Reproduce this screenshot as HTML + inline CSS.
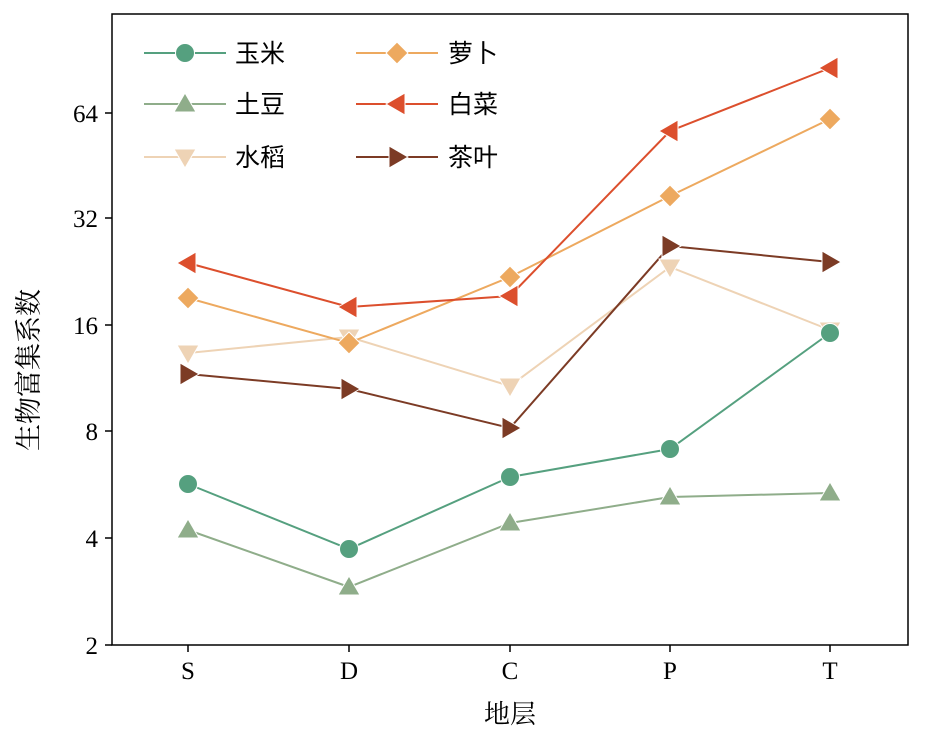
<!DOCTYPE html>
<html><head><meta charset="utf-8"><style>body{margin:0;background:#fff}svg{display:block}</style></head><body>
<svg width="945" height="732" xmlns="http://www.w3.org/2000/svg">
<rect width="945" height="732" fill="#fff"/>
<rect x="112" y="14" width="796" height="631" fill="none" stroke="#000" stroke-width="1.5"/>
<g stroke="#000" stroke-width="1.5">
<line x1="112" y1="645" x2="105" y2="645"/><line x1="112" y1="538" x2="105" y2="538"/><line x1="112" y1="431" x2="105" y2="431"/><line x1="112" y1="325" x2="105" y2="325"/><line x1="112" y1="218" x2="105" y2="218"/><line x1="112" y1="113" x2="105" y2="113"/>
<line x1="188" y1="645" x2="188" y2="652"/><line x1="349" y1="645" x2="349" y2="652"/><line x1="510" y1="645" x2="510" y2="652"/><line x1="670" y1="645" x2="670" y2="652"/><line x1="830" y1="645" x2="830" y2="652"/>
</g>
<g font-family="Liberation Serif, serif" font-size="25" fill="#000" text-anchor="end">
<text x="98" y="654">2</text><text x="98" y="547">4</text><text x="98" y="440">8</text><text x="98" y="334">16</text><text x="98" y="227">32</text><text x="98" y="122">64</text>
</g>
<g font-family="Liberation Serif, serif" font-size="25" fill="#000" text-anchor="middle">
<text x="188" y="679">S</text><text x="349" y="679">D</text><text x="510" y="679">C</text><text x="670" y="679">P</text><text x="830" y="679">T</text>
</g>
<text x="510" y="723" font-family="Liberation Serif, 'Noto Serif CJK SC', serif" font-size="26" text-anchor="middle">地层</text>
<text transform="translate(38 370) rotate(-90)" font-family="Liberation Serif, 'Noto Serif CJK SC', serif" font-size="27" text-anchor="middle">生物富集系数</text>
<defs>
<circle id="mc" r="9.5"/>
<polygon id="mu" points="0,-11 11,8 -11,8"/>
<polygon id="md" points="0,11 11,-8 -11,-8"/>
<polygon id="mdi" points="0,-11 11,0 0,11 -11,0"/>
<polygon id="ml" points="-11,0 8,-11 8,11"/>
<polygon id="mr" points="11,0 -8,-11 -8,11"/>
</defs>
<g fill="none" stroke-width="2">
<polyline stroke="#eed3b5" points="188,353 349,337 510,386 670,267 830,330"/>
<polyline stroke="#8fad8a" points="188,530 349,587 510,523 670,497 830,493"/>
<polyline stroke="#55a07f" points="188,484 349,549 510,477 670,449 830,333"/>
<polyline stroke="#eda95f" points="188,298 349,343 510,277 670,196 830,119"/>
<polyline stroke="#dc4f2d" points="188,263 349,307 510,296 670,131 830,68"/>
<polyline stroke="#7c3b25" points="188,374 349,389 510,428 670,246 830,262"/>
</g>
<g fill="#eed3b5" stroke="#fff" stroke-width="1"><use href="#md" x="188" y="353"/><use href="#md" x="349" y="337"/><use href="#md" x="510" y="386"/><use href="#md" x="670" y="267"/><use href="#md" x="830" y="330"/></g>
<g fill="#8fad8a" stroke="#fff" stroke-width="1"><use href="#mu" x="188" y="530"/><use href="#mu" x="349" y="587"/><use href="#mu" x="510" y="523"/><use href="#mu" x="670" y="497"/><use href="#mu" x="830" y="493"/></g>
<g fill="#55a07f" stroke="#fff" stroke-width="1"><use href="#mc" x="188" y="484"/><use href="#mc" x="349" y="549"/><use href="#mc" x="510" y="477"/><use href="#mc" x="670" y="449"/><use href="#mc" x="830" y="333"/></g>
<g fill="#eda95f" stroke="#fff" stroke-width="1"><use href="#mdi" x="188" y="298"/><use href="#mdi" x="349" y="343"/><use href="#mdi" x="510" y="277"/><use href="#mdi" x="670" y="196"/><use href="#mdi" x="830" y="119"/></g>
<g fill="#dc4f2d" stroke="#fff" stroke-width="1"><use href="#ml" x="188" y="263"/><use href="#ml" x="349" y="307"/><use href="#ml" x="510" y="296"/><use href="#ml" x="670" y="131"/><use href="#ml" x="830" y="68"/></g>
<g fill="#7c3b25" stroke="#fff" stroke-width="1"><use href="#mr" x="188" y="374"/><use href="#mr" x="349" y="389"/><use href="#mr" x="510" y="428"/><use href="#mr" x="670" y="246"/><use href="#mr" x="830" y="262"/></g>
<g stroke-width="2">
<line x1="144" y1="53" x2="226" y2="53" stroke="#55a07f"/><use href="#mc" x="185" y="53" fill="#55a07f" stroke="#fff" stroke-width="1"/>
<line x1="144" y1="104" x2="226" y2="104" stroke="#8fad8a"/><use href="#mu" x="185" y="104" fill="#8fad8a" stroke="#fff" stroke-width="1"/>
<line x1="144" y1="157" x2="226" y2="157" stroke="#eed3b5"/><use href="#md" x="185" y="157" fill="#eed3b5" stroke="#fff" stroke-width="1"/>
<line x1="356" y1="53" x2="438" y2="53" stroke="#eda95f"/><use href="#mdi" x="397" y="53" fill="#eda95f" stroke="#fff" stroke-width="1"/>
<line x1="356" y1="104" x2="438" y2="104" stroke="#dc4f2d"/><use href="#ml" x="397" y="104" fill="#dc4f2d" stroke="#fff" stroke-width="1"/>
<line x1="356" y1="157" x2="438" y2="157" stroke="#7c3b25"/><use href="#mr" x="397" y="157" fill="#7c3b25" stroke="#fff" stroke-width="1"/>
</g>
<g font-family="Liberation Sans, 'Noto Sans CJK SC', sans-serif" font-size="25" fill="#000">
<text x="235" y="62">玉米</text><text x="235" y="113">土豆</text><text x="235" y="166">水稻</text>
<text x="448" y="62">萝卜</text><text x="448" y="113">白菜</text><text x="448" y="166">茶叶</text>
</g>
</svg>
</body></html>
